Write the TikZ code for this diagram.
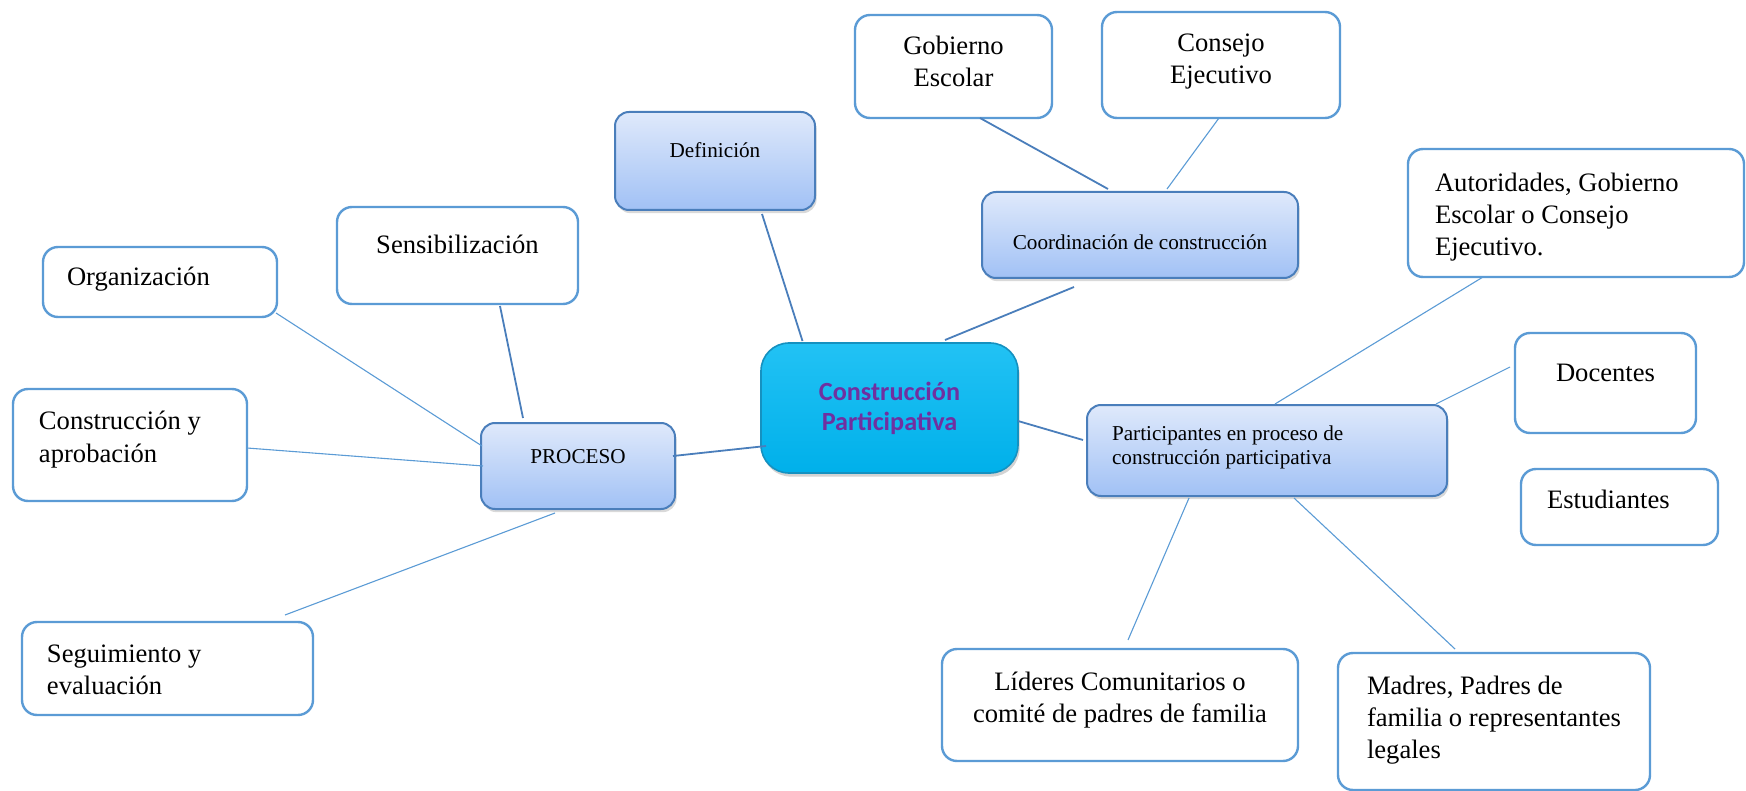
\documentclass[tikz,border=0pt]{standalone}
\usepackage{fontspec}
\setmainfont{Liberation Serif}
\newfontfamily\calfont{Carlito}
\usetikzlibrary{calc,shadows}
\newdimen\pxu \pxu=0.5pt
\newcommand\boxC[4]{\parbox[c][#2\pxu][t]{#1\pxu}{\centering\rule{0pt}{#3\pxu}#4}}
\newcommand\boxL[5]{\parbox[c][#2\pxu][t]{#1\pxu}{\raggedright\leftskip=#4\pxu\rule{0pt}{#3\pxu}#5}}
\definecolor{bbord}{HTML}{5B9BD5}
\definecolor{sbord}{HTML}{4A7EBB}
\definecolor{sTop}{HTML}{DFE9FB}
\definecolor{sBot}{HTML}{A1C1F5}
\definecolor{lcol}{HTML}{5B9BD5}
\definecolor{ldark}{HTML}{4A7EBB}
\definecolor{cTop}{HTML}{22C2F4}
\definecolor{cMid}{HTML}{00B9F1}
\definecolor{cBot}{HTML}{00B0EA}
\definecolor{cbord}{HTML}{1591C0}
\definecolor{purp}{HTML}{7030A0}
\tikzset{
  bigbox/.style={draw=bbord, line width=1.2pt, rounded corners=7.5pt, fill=white,
    inner sep=0pt, outer sep=0pt, font=\fontsize{13.3}{16}\selectfont},
  smallbox/.style={draw=sbord, line width=1pt, rounded corners=7pt, top color=sTop, bottom color=sBot,
    inner sep=0pt, outer sep=0pt,
    drop shadow={shadow xshift=0.8pt, shadow yshift=-1.6pt, opacity=0.3},
    font=\fontsize{10.6}{12}\selectfont},
  centerbox/.style={draw=cbord, line width=0.8pt, rounded corners=14pt,
    top color=cTop, middle color=cMid, bottom color=cBot,
    inner sep=0pt, outer sep=0pt, align=center, text=purp,
    drop shadow={shadow xshift=0.8pt, shadow yshift=-1.8pt, opacity=0.35},
    font=\calfont\bfseries\fontsize{13.1}{15}\selectfont},
  lnk/.style={draw=lcol, line width=0.55pt},
  lnkd/.style={draw=ldark, line width=0.9pt},
}
\begin{document}
\begin{tikzpicture}[x=0.5pt, y=-0.5pt]
\useasboundingbox (0,0) rectangle (1746,791);

% center
\node[centerbox, minimum width=128.5pt, minimum height=65pt] (cent) at (889.5,408) {Construcción\\Participativa};

% small (gradient) boxes
\node[smallbox] (def) at (715,161) {\boxC{200}{98}{46}{Definición}};
\node[smallbox] (coord) at (1140,235) {\boxC{316}{86}{58}{Coordinación de construcción}};
\node[smallbox] (part) at (1267,450.5) {\boxL{360}{91}{35}{25}{Participantes en proceso de\\construcción participativa}};
\node[smallbox] (proc) at (578,466) {\boxC{194}{86}{40}{PROCESO}};

% white boxes
\node[bigbox] (gob) at (953.5,66.5) {\boxC{197}{103}{40}{Gobierno\\Escolar}};
\node[bigbox] (con) at (1221,65) {\boxC{238}{106}{40}{Consejo\\Ejecutivo}};
\node[bigbox] (aut) at (1576,213) {\boxL{336}{128}{43}{27}{Autoridades, Gobierno\\Escolar o Consejo\\Ejecutivo.}};
\node[bigbox] (doc) at (1605.5,383) {\boxC{181}{100}{48}{Docentes}};
\node[bigbox] (est) at (1619.5,507) {\boxL{197}{76}{39}{26}{Estudiantes}};
\node[bigbox] (mad) at (1494,721.5) {\boxL{312}{137}{41}{29}{Madres, Padres de\\familia o representantes\\legales}};
\node[bigbox] (lid) at (1120,705) {\boxC{356}{112}{41}{Líderes Comunitarios o\\comité de padres de familia}};
\node[bigbox] (sen) at (457.5,255.5) {\boxC{241}{97}{47}{Sensibilización}};
\node[bigbox] (org) at (160,282) {\boxL{234}{70}{38}{24}{Organización}};
\node[bigbox] (cya) at (130,445) {\boxL{234}{112}{41}{26}{Construcción y\\aprobación}};
\node[bigbox] (seg) at (167.5,668.5) {\boxL{291}{93}{40}{25}{Seguimiento y\\evaluación}};

% connectors
\draw[lnkd] ($(def.south)+(47,4)$) -- ($(cent.north)+(-87,-2)$);
\draw[lnkd] ($(coord.south)+(-66,9)$) -- ($(cent.north)+(55.5,-3)$);
\draw[lnkd] ($(gob.south)+(26.5,0)$) -- ($(coord.north)+(-32,-3)$);
\draw[lnk] ($(con.south)+(-2,0)$) -- ($(coord.north)+(27,-3)$);
\draw[lnkd] ($(cent.east)+(0,13)$) -- ($(part.west)+(-4,-10.5)$);
\draw[lnk] ($(part.north)+(8,-1)$) -- ($(aut.south)+(-93,0)$);
\draw[lnk] ($(part.north east)+(-11,-1)$) -- ($(doc.west)+(-5,-16)$);
\draw[lnk] ($(part.south)+(-78,2)$) -- ($(lid.north)+(8,-9)$);
\draw[lnk] ($(part.south)+(27,2)$) -- ($(mad.north)+(-39,-4)$);
\draw[lnkd] ($(cent.west)+(5,38)$) -- ($(proc.east)+(-2,-10)$);
\draw[lnkd] ($(proc.north)+(-55,-5)$) -- ($(sen.south)+(42.5,2)$);
\draw[lnk] ($(proc.west)+(1,-20)$) -- ($(org.south east)+(-1,-4)$);
\draw[lnk] ($(proc.west)+(2,0)$) -- ($(cya.east)+(0,3)$);
\draw[lnk] ($(proc.south)+(-23,4)$) -- ($(seg.north)+(117.5,-7)$);
\end{tikzpicture}
\end{document}
